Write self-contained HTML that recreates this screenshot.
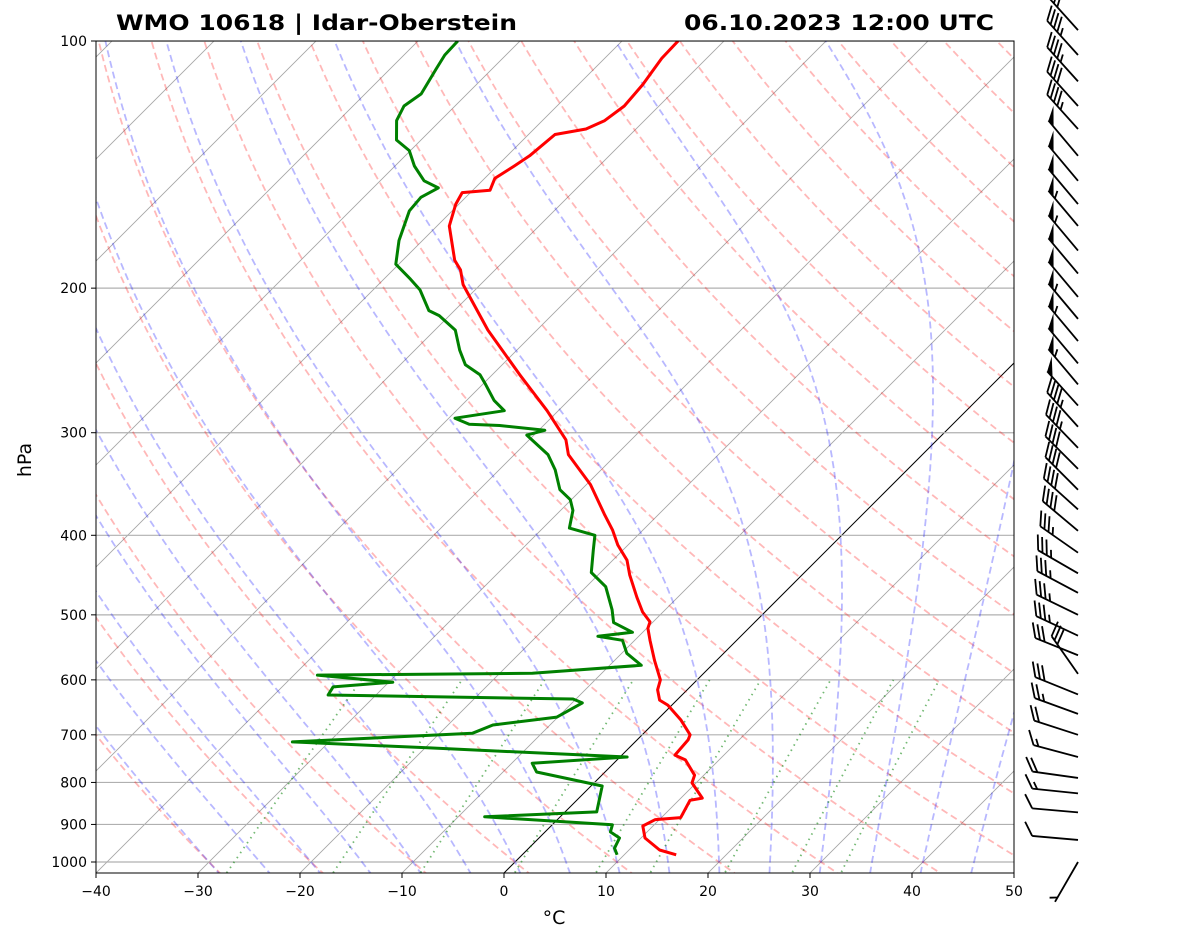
<!DOCTYPE html>
<html><head><meta charset="utf-8"><style>
body{margin:0;background:#fff;}
svg{display:block;font-family:"DejaVu Sans","Liberation Sans",sans-serif;}
</style></head><body>
<svg id="chart" width="1181" height="941" viewBox="0 0 1181 941" xmlns="http://www.w3.org/2000/svg">
<defs><clipPath id="clip"><rect x="96" y="41" width="918" height="832"/></clipPath></defs>
<rect width="1181" height="941" fill="#fff"/>
<g id="bg" clip-path="url(#clip)"></g>
<g id="series" clip-path="url(#clip)"></g>
<rect x="96" y="41" width="918" height="832" fill="none" stroke="#000" stroke-width="1"/>
<g id="axes"></g>
<g id="barbs"></g>
<text x="116" y="30" font-size="21" font-weight="bold" textLength="401" lengthAdjust="spacingAndGlyphs">WMO 10618 | Idar-Oberstein</text>
<text x="684" y="30" font-size="21" font-weight="bold" textLength="310" lengthAdjust="spacingAndGlyphs">06.10.2023 12:00 UTC</text>
<text x="554" y="924" font-size="19" text-anchor="middle">°C</text>
<text transform="translate(31,460) rotate(-90)" font-size="19" text-anchor="middle">hPa</text>
</svg>
<script>
const tempP=[980,967,935,904,888,883,841,836,801,784,751,741,710,700,671,644,635,617,600,568,537,519,510,496,476,447,429,411,394,378,347,319,306,282,255,225,198,190,185,168,158,153,152,147,142,138,130,128,125,120,113,105,100];
const tempT=[15.1,13.0,10.4,9.0,9.6,11.9,11.1,12.1,9.6,9.1,6.7,5.2,5.0,4.7,2.3,-0.4,-1.7,-2.9,-3.6,-6.1,-8.5,-9.9,-10.3,-12.0,-14.0,-16.9,-18.6,-21.0,-23.0,-25.2,-29.6,-34.7,-36.4,-41.1,-47.3,-54.8,-61.7,-63.4,-64.9,-68.8,-70.3,-70.8,-68.3,-69.0,-68.3,-67.8,-67.4,-64.9,-63.9,-63.4,-63.7,-64.4,-64.5];
const dewP=[980,962,935,919,901,881,869,808,777,758,745,726,714,697,681,666,640,633,626,612,604,592,589,576,557,537,531,525,511,493,462,444,417,400,392,373,362,352,333,319,302,298,294,293,288,282,274,262,255,248,238,225,216,213,201,195,187,175,161,155,151,148,142,136,132,125,120,116,108,104,100];
const dewT=[9.3,8.4,7.9,6.4,5.9,-7.4,3.1,1.1,-6.7,-8.0,0.7,-19.8,-33.6,-16.8,-15.6,-10.1,-9.0,-10.3,-34.7,-35.0,-29.6,-37.7,-16.8,-6.9,-9.5,-11.2,-14.0,-11.0,-13.8,-15.2,-18.1,-20.9,-22.9,-24.2,-27.4,-28.8,-30.1,-32.1,-34.5,-36.7,-40.7,-39.4,-44.3,-47.4,-49.4,-45.3,-47.3,-49.7,-51.2,-53.6,-55.6,-58.0,-61.0,-62.5,-65.4,-67.4,-70.3,-72.3,-74.2,-74.4,-73.6,-75.7,-78.1,-80.1,-82.4,-84.3,-85.0,-84.5,-85.5,-86.0,-86.1];
const windP=[97,104,112,120,128,138,148,158,168,180,192,205,218,232,247,262,278,295,313,332,352,372,395,420,445,470,500,530,560,590,625,660,700,745,790,825,870,940,1000];
const windDir=[318,318,318,318,318,320,320,320,320,320,320,320,320,320,320,320,318,318,316,315,315,312,310,305,300,298,296,295,292,325,292,290,288,285,278,276,275,275,210];
const windSpd=[40,45,45,40,45,50,50,50,55,55,50,50,55,55,50,55,50,45,45,40,40,40,40,35,35,35,35,35,30,30,30,25,20,15,20,15,10,10,5];
const xTicks=[-40,-30,-20,-10,0,10,20,30,40,50];
const pTicks=[100,200,300,400,500,600,700,800,900,1000];

const NS="http://www.w3.org/2000/svg";
function Y(p){return 41+821*Math.log10(p/100);}
function X(T,p){return 96+(T+40)*10.2+(873-Y(p));}
function mk(tag,attrs,parent){const e=document.createElementNS(NS,tag);for(const k in attrs)e.setAttribute(k,attrs[k]);parent.appendChild(e);return e;}
const bg=document.getElementById('bg'),ser=document.getElementById('series'),ax=document.getElementById('axes'),bb=document.getElementById('barbs');
function poly(pts,style,parent,name){
  const e=mk('polyline',Object.assign({points:pts.map(q=>q[0].toFixed(1)+','+q[1].toFixed(1)).join(' '),fill:'none'},style),parent);
  
  
  return e;}
const presGrid=[];for(let p=1060;p>=95;p*=0.98)presGrid.push(p);
for(let T=-120;T<=50;T+=10){
  const l=mk('line',{x1:X(T,1100),y1:Y(1100),x2:X(T,90),y2:Y(90),stroke:'#000','stroke-opacity':T===0?1:0.35,'stroke-width':T===0?1:0.9},bg);
  
  
}
pTicks.forEach(p=>{const l=mk('line',{x1:96,x2:1014,y1:Y(p),y2:Y(p),stroke:'#b0b0b0','stroke-width':1.2},bg);
  
  });
for(let th=-30;th<=200;th+=10){
  const pts=presGrid.map(p=>[X((th+273.15)*Math.pow(p/1000,0.2857)-273.15,p),Y(p)]);
  poly(pts,{stroke:'#ff0000','stroke-opacity':0.28,'stroke-width':1.8,'stroke-dasharray':'7,4'},bg,'dry-adiabat');
}
function es(T){return 6.112*Math.exp(17.67*T/(T+243.5));}
function dTdp(T,p){const Tk=T+273.15,e=es(T),rs=0.622*e/(p-e),Rd=287,Lv=2.501e6,Cp=1005,eps=0.622;
  return (1/p)*(Rd*Tk+Lv*rs)/(Cp+Lv*Lv*rs*eps/(Rd*Tk*Tk));}
for(let T0=-30;T0<=45;T0+=5){
  const up=[],dn=[];let T=T0,p=1000;
  while(p>95){up.push([X(T,p),Y(p)]);const dp=-5;T+=dTdp(T,p)*dp;p+=dp;}
  T=T0;p=1000;while(p<1070){dn.unshift([X(T,p),Y(p)]);const dp=5;T+=dTdp(T,p)*dp;p+=dp;}
  poly(dn.concat(up),{stroke:'#0000ff','stroke-opacity':0.28,'stroke-width':1.8,'stroke-dasharray':'7,4'},bg,'moist-adiabat');
}
[0.0004,0.001,0.002,0.004,0.007,0.01,0.016,0.024,0.032].forEach(w=>{
  const pts=[];for(let p=1060;p>=600;p-=10){const e=p*w/(0.622+w),l=Math.log(e/6.112);const Td=243.5*l/(17.67-l);pts.push([X(Td,p),Y(p)]);}
  poly(pts,{stroke:'#008000','stroke-opacity':0.55,'stroke-width':1.8,'stroke-dasharray':'1.5,4.5'},bg,'mixing-ratio-line');
});
poly(tempP.map((p,i)=>[X(tempT[i],p),Y(p)]),{stroke:'#ff0000','stroke-width':3,'stroke-linejoin':'round'},ser,'temperature-line');
poly(dewP.map((p,i)=>[X(dewT[i],p),Y(p)]),{stroke:'#008000','stroke-width':3,'stroke-linejoin':'round'},ser,'dewpoint-line');
xTicks.forEach(t=>{const x=96+(t+40)*10.2;
  const l=mk('line',{x1:x,x2:x,y1:873,y2:878,stroke:'#000'},ax);
  
  
  const tx=mk('text',{x:x,y:896,'font-size':14,'text-anchor':'middle'},ax);tx.textContent=(t<0?'\u2212'+(-t):t);
  
  });
pTicks.forEach(p=>{const y=Y(p);
  const l=mk('line',{x1:91,x2:96,y1:y,y2:y,stroke:'#000'},ax);
  
  
  const tx=mk('text',{x:87,y:y+5,'font-size':14,'text-anchor':'end'},ax);tx.textContent=p;
  
  });
windP.forEach((p,i)=>{
  const y=Y(p),bx=1078,d=windDir[i]*Math.PI/180;
  const ux=Math.sin(d),uy=-Math.cos(d),L=46;
  const tx=bx+ux*L,ty=y+uy*L;
  const px=-uy,py=ux;
  const g=mk('g',{},bb);
  
  
  mk('line',{x1:bx,y1:y,x2:tx,y2:ty,stroke:'#000','stroke-width':1.8},g);
  let s=Math.round(windSpd[i]/5)*5,pos=0;
  const bxv=(px*0.9+ux*0.55)*15, byv=(py*0.9+uy*0.55)*15;
  while(s>=50){const ax1=tx-ux*pos,ay1=ty-uy*pos,ax2=tx-ux*(pos+8),ay2=ty-uy*(pos+8);
    mk('polygon',{points:`${ax1},${ay1} ${ax1+bxv},${ay1+byv} ${ax2},${ay2}`,fill:'#000'},g);pos+=10;s-=50;}
  while(s>=10){const ax1=tx-ux*pos,ay1=ty-uy*pos;
    mk('line',{x1:ax1,y1:ay1,x2:ax1+bxv,y2:ay1+byv,stroke:'#000','stroke-width':1.8},g);pos+=5;s-=10;}
  if(s>=5){if(pos===0)pos=5;const ax1=tx-ux*pos,ay1=ty-uy*pos;
    mk('line',{x1:ax1,y1:ay1,x2:ax1+bxv/2,y2:ay1+byv/2,stroke:'#000','stroke-width':1.8},g);}
});
</script>
</body></html>
